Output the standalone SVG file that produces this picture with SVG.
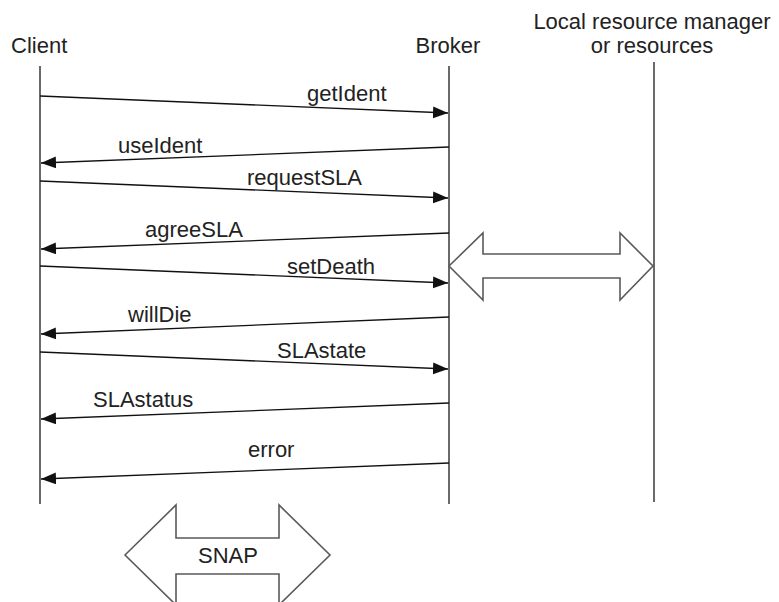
<svg xmlns="http://www.w3.org/2000/svg" width="779" height="602" viewBox="0 0 779 602">
<defs>
<style>
text{font-family:"Liberation Sans",Arial,sans-serif;font-size:22px;fill:#222}
.life{stroke:#6a6a6a;stroke-width:2;fill:none}
.msg{stroke:#111;stroke-width:1.3;fill:none;marker-end:url(#ah)}
.big{stroke:#5a5a5a;stroke-width:1.6;fill:#fff;stroke-linejoin:miter}
</style>
<marker id="ah" markerUnits="userSpaceOnUse" markerWidth="16" markerHeight="14" refX="15" refY="6" orient="auto">
<path d="M0,0 L15,6 L0,12 Z" fill="#111"/>
</marker>
</defs>
<rect width="779" height="602" fill="#fff"/>
<g id="client">
<text x="11" y="53">Client</text>
<line class="life" x1="40" y1="66" x2="40" y2="504"/>
</g>
<g id="broker">
<text x="448" y="53" text-anchor="middle">Broker</text>
<line class="life" x1="449" y1="66" x2="449" y2="504"/>
</g>
<g id="local">
<text x="652" y="29" text-anchor="middle">Local resource manager</text>
<text x="652" y="53" text-anchor="middle">or resources</text>
<line class="life" x1="654" y1="62" x2="654" y2="502"/>
</g>
<g id="local-link">
<path class="big" d="M449,266 L483,233 L483,254 L620,254 L620,233 L653,266 L620,300 L620,278 L483,278 L483,300 Z"/>
</g>
<g id="snap">
<path class="big" d="M125,555 L176,505 L176,538 L279,538 L279,505 L330,555 L279,605 L279,574 L176,574 L176,605 Z"/>
<text x="228" y="563" text-anchor="middle">SNAP</text>
</g>
<g id="connectors">
<line class="msg" x1="40" y1="96" x2="448" y2="113"/>
<line class="msg" x1="449" y1="147" x2="41" y2="163"/>
<line class="msg" x1="40" y1="181" x2="448" y2="198"/>
<line class="msg" x1="449" y1="233" x2="41" y2="249"/>
<line class="msg" x1="40" y1="266" x2="448" y2="283"/>
<line class="msg" x1="449" y1="317" x2="41" y2="334"/>
<line class="msg" x1="40" y1="352" x2="448" y2="369"/>
<line class="msg" x1="449" y1="403" x2="41" y2="419"/>
<line class="msg" x1="449" y1="463" x2="41" y2="479"/>
<text x="307" y="101">getIdent</text>
<text x="118" y="153">useIdent</text>
<text x="247" y="185">requestSLA</text>
<text x="145" y="237">agreeSLA</text>
<text x="287" y="274">setDeath</text>
<text x="128" y="322">willDie</text>
<text x="277" y="358">SLAstate</text>
<text x="93" y="407">SLAstatus</text>
<text x="248" y="457">error</text>
</g>
</svg>
